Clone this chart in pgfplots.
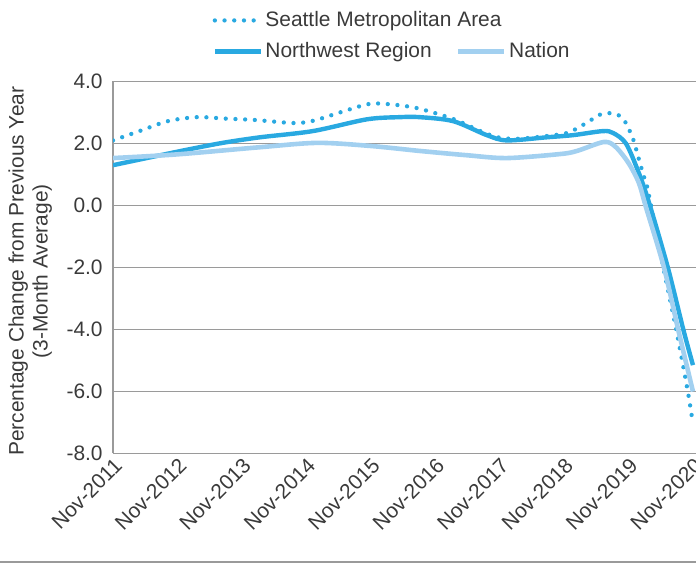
\documentclass[border=0pt]{standalone}
\usepackage{fontspec}
\setmainfont{Liberation Sans}
\usepackage{pgfplots}
\pgfplotsset{compat=1.18}
\definecolor{nwblue}{HTML}{29A9E1}
\definecolor{natblue}{HTML}{A2D0F0}
\definecolor{zerogray}{HTML}{A6A6A6}
\definecolor{gridgray}{HTML}{9A9A9A}
\definecolor{txt}{HTML}{3A3A3A}
\begin{document}
\fontsize{10.5}{12}\selectfont
\begin{tikzpicture}
\useasboundingbox (0bp,0bp) rectangle (348bp,282.5bp);
\draw[gridgray, line width=1bp] (0bp,1.5bp) -- (348bp,1.5bp);
\begin{axis}[
  at={(56.5bp,55.75bp)}, anchor=south west,
  scale only axis, width=291.5bp, height=186bp,
  xmin=0, xmax=9.047, ymin=-8, ymax=4,
  axis lines*=left,
  axis line style={-, draw=gridgray, line width=0.75bp},
  major tick length=0pt,
  tick style={draw=none},
  ytick={-8,-6,-4,-2,0,2,4},
  yticklabels={-8.0,-6.0,-4.0,-2.0,0.0,2.0,4.0},
  xtick={0,1,2,3,4,5,6,7,8,9},
  xticklabels={Nov-2011,Nov-2012,Nov-2013,Nov-2014,Nov-2015,Nov-2016,Nov-2017,Nov-2018,Nov-2019,Nov-2020},
  x tick label style={rotate=45, anchor=north east, inner sep=1bp, text=txt},
  y tick label style={text=txt, inner sep=1bp, xshift=-4bp},
  ymajorgrids,
  major grid style={draw=gridgray, line width=0.75bp},
  extra y ticks={0}, extra y tick labels={},
  extra y tick style={grid style={draw=zerogray, line width=4bp}},
  ylabel={Percentage Change from Previous Year\\(3-Month Average)},
  ylabel style={at={(axis description cs:-0.142,0.49)}, anchor=center, align=center, text=txt},
  legend columns=2,
  legend cell align=left,
  legend style={draw=none, fill=none, at={(axis description cs:0.16,1.207)}, anchor=north west,
    text=txt, nodes={inner sep=1.2bp}, row sep=4bp,
    /tikz/every even column/.append style={column sep=11bp}},
  legend image code/.code={\draw[#1] (0bp,0bp) -- (23bp,0bp);},
]
\addplot[nwblue, line width=2.15bp, line cap=round, dash pattern=on 0bp off 4.85bp, smooth] coordinates {
(0.00,2.10) (0.45,2.43) (0.85,2.72) (1.30,2.85) (1.77,2.80) (2.20,2.76) (2.80,2.66) (3.10,2.73)
(3.52,3.00) (3.96,3.27) (4.27,3.27) (4.72,3.14) (5.28,2.79) (5.70,2.40) (5.97,2.20) (6.27,2.15)
(6.73,2.24) (7.05,2.34) (7.26,2.56) (7.42,2.76) (7.54,2.92) (7.70,2.98) (7.84,2.92) (7.95,2.69)
(8.07,2.15) (8.15,1.57) (8.24,0.92) (8.30,0.50) (8.54,-2.00) (8.74,-4.00) (8.92,-6.00) (9.00,-7.05)
};
\addlegendentry{\rlap{Seattle Metropolitan Area}}
\addlegendimage{empty legend}
\addlegendentry{}
\addplot[nwblue, line width=2.2bp, smooth] coordinates {
(0.00,1.30) (0.50,1.52) (1.15,1.80) (1.70,2.02) (2.28,2.20) (3.10,2.40) (3.94,2.78) (4.45,2.85)
(4.76,2.85) (5.28,2.72) (5.80,2.27) (6.11,2.10) (6.73,2.20) (7.14,2.27) (7.60,2.40) (7.76,2.34)
(7.96,2.00) (8.16,1.05) (8.32,0.08) (8.61,-2.00) (8.85,-4.00) (9.00,-5.15)
};
\addlegendentry{Northwest Region}
\addplot[natblue, line width=2.3bp, smooth] coordinates {
(0.00,1.53) (1.00,1.65) (2.28,1.88) (3.17,2.02) (4.00,1.92) (4.76,1.76) (5.50,1.62) (6.11,1.53)
(6.94,1.66) (7.20,1.76) (7.62,2.05) (7.80,1.89) (8.00,1.37) (8.16,0.73) (8.27,-0.05) (8.55,-2.00)
(8.77,-4.00) (9.00,-6.00)
};
\addlegendentry{Nation}
\end{axis}
\end{tikzpicture}
\end{document}
